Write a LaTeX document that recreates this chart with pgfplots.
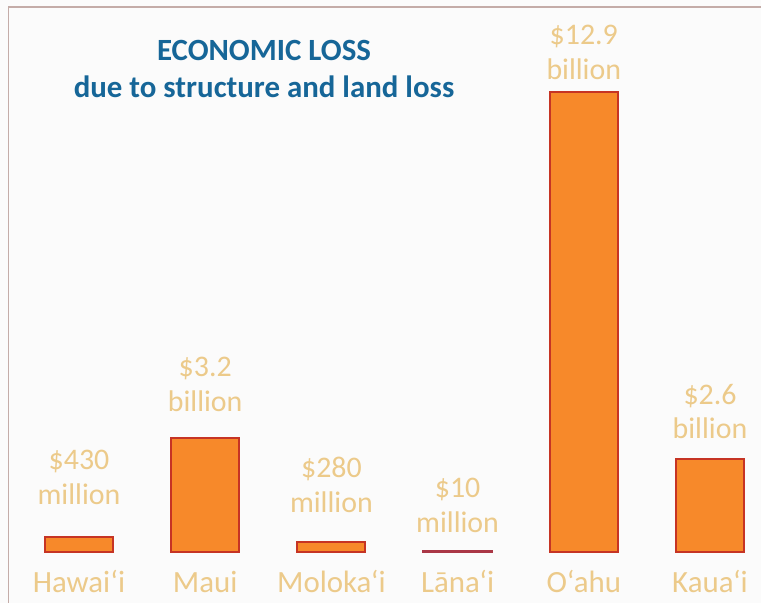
\documentclass[border=0pt]{standalone}
\usepackage{fontspec}
\setmainfont{Carlito}
\usepackage{pgfplots}
\pgfplotsset{compat=1.18}
\definecolor{barfill}{RGB}{247,137,42}
\definecolor{baredge}{RGB}{198,52,36}
\definecolor{lanai}{RGB}{170,55,70}
\definecolor{labeltan}{RGB}{236,202,138}
\definecolor{titleblue}{RGB}{22,102,152}
\definecolor{framec}{RGB}{196,172,168}
\definecolor{bg}{RGB}{251,251,251}
\tikzset{vlab/.style={text=labeltan, font=\fontsize{30}{35}\selectfont, align=center, anchor=south, inner sep=0pt}}
\begin{document}
\begin{tikzpicture}
\useasboundingbox (0,0) rectangle (761bp,603bp);
\fill[bg] (0,0) rectangle (761bp,603bp);
\draw[framec, line width=1.3bp] (8.5bp,0) -- (8.5bp,596bp) -- (761bp,596bp);
\node[text=titleblue, font=\fontsize{31}{38}\selectfont\bfseries, anchor=base, inner sep=0] at (264bp,542bp) {ECONOMIC LOSS};
\node[text=titleblue, font=\fontsize{31}{38}\selectfont\bfseries, anchor=base, inner sep=0] at (264bp,505bp) {due to structure and land loss};
\begin{axis}[
  at={(28.52bp,51bp)}, anchor=south west,
  scale only axis, width=731.96bp, height=499.24bp,
  xmin=-0.4, xmax=5.4, ymin=0, ymax=14,
  hide y axis,
  axis x line*=bottom,
  x axis line style={draw=none},
  xtick style={draw=none},
  xtick={0,1,2,3,4,5},
  xticklabels={Hawai‘i,Maui,Moloka‘i,Lāna‘i,O‘ahu,Kaua‘i},
  xticklabel style={font=\fontsize{31}{35}\selectfont, text=labeltan, anchor=base, yshift=-36bp},
  ybar, bar width=68bp, bar shift=0pt,
  clip=false,
]
\addplot[fill=barfill, draw=baredge, line width=2bp] coordinates {(0,0.43) (1,3.2) (2,0.28) (4,12.9) (5,2.6)};
\addplot[fill=lanai, draw=lanai, line width=2.6bp] coordinates {(3,0.01)};
\node[vlab, yshift=31.7bp] at (axis cs:0,0.43) {\$430\\million};
\node[vlab, yshift=26bp] at (axis cs:1,3.2) {\$3.2\\billion};
\node[vlab, yshift=29bp] at (axis cs:2,0.28) {\$280\\million};
\node[vlab, yshift=18.6bp] at (axis cs:3,0.01) {\$10\\million};
\node[vlab, yshift=12bp] at (axis cs:4,12.9) {\$12.9\\billion};
\node[vlab, yshift=20bp] at (axis cs:5,2.6) {\$2.6\\billion};
\end{axis}
\end{tikzpicture}
\end{document}
